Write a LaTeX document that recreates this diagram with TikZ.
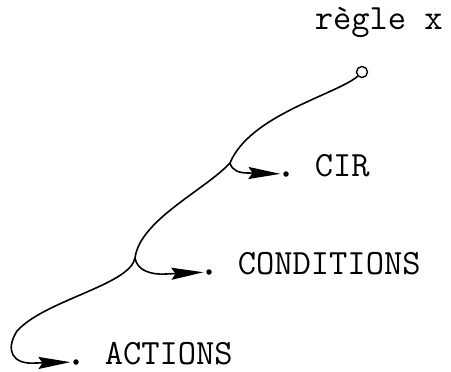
\documentclass[tikz,border=0pt]{standalone}
\usepackage{fontspec}
\usetikzlibrary{arrows.meta}
\begin{document}
\begin{tikzpicture}[x=1pt,y=-1pt,
  line width=1.6pt,
  lbl/.style={anchor=base west, inner sep=0pt, font=\ttfamily\fontsize{35.5}{40}\selectfont},
  enddot/.style={circle, fill=black, inner sep=0pt, minimum size=5.5pt},
  startring/.style={circle, draw, line width=1.4pt, inner sep=0pt, minimum size=11pt},
  arr/.style={-{Stealth[length=32pt,width=12pt,inset=4pt]}, shorten >=2pt}]
\useasboundingbox (0,0) rectangle (451,372);
% nodes
\node[lbl] (title) at (314,30) {règle x};
\node[startring] (start) at (362,72) {};
\node[enddot] (d1) at (286,174) {};
\node[lbl] (cir) at (314,176) {CIR};
\node[enddot] (d2) at (209,272) {};
\node[lbl] (cond) at (237,274) {CONDITIONS};
\node[enddot] (d3) at (76,362) {};
\node[lbl, text depth=0pt] (act) at (104,364) {ACTIONS};
% branch points
\coordinate (b1) at (230,163);
\coordinate (b2) at (135,258);
\coordinate (t1) at (248,173);
\coordinate (t2) at (166,274);
\coordinate (t3) at (36,363);
% main spine
\draw (start.225) .. controls (335,95) and (250,115) .. (b1)
      .. controls (205,190) and (140,220) .. (b2)
      .. controls (130,285) and (45,300) .. (17,331)
      .. controls (5,350) and (12,365) .. (t3);
\draw[arr] (t3) -- (d3);
% branches
\draw (b1) .. controls (232,171) and (240,173) .. (t1);
\draw[arr] (t1) -- (d1);
\draw (b2) .. controls (137,270) and (150,275) .. (t2);
\draw[arr] (t2) -- (d2);
\end{tikzpicture}
\end{document}
